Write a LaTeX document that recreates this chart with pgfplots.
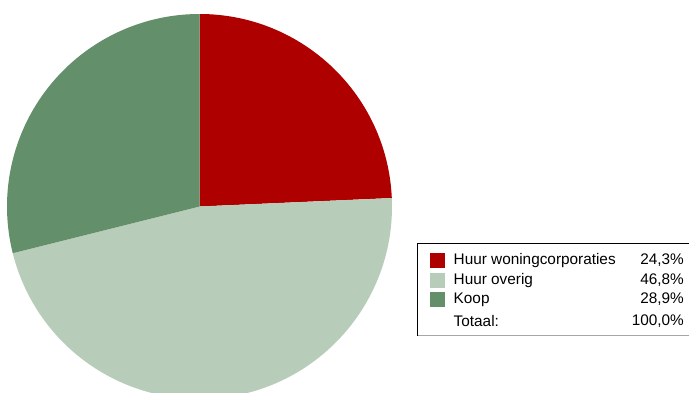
\documentclass[border=0pt]{standalone}
\usepackage{pgfplots}
\pgfplotsset{compat=1.18}
\usepackage{fontspec}
\setmainfont{Liberation Sans}

\definecolor{huurwc}{RGB}{175,0,0}
\definecolor{huurov}{RGB}{183,205,185}
\definecolor{koop}{RGB}{99,143,106}

% shares in percent
\def\vA{24.3}
\def\vB{46.8}
\def\vC{28.9}

\begin{document}
\begin{tikzpicture}
\begin{axis}[
    width=689bp, height=393bp,
    scale only axis,
    hide axis,
    xmin=0, xmax=689,
    ymin=0, ymax=393,
    clip=false,
]
\coordinate (SW) at (axis cs:0,0);
\coordinate (NE) at (axis cs:689,393);
% pie, clockwise from 12 o'clock
\pgfmathsetmacro{\aA}{90-\vA*3.6}
\pgfmathsetmacro{\aB}{\aA-\vB*3.6}
\pgfmathsetmacro{\aC}{\aB-\vC*3.6}
\fill[huurwc] (axis cs:199.5,186.5) -- ++(90:192.5bp)
    arc[start angle=90, end angle=\aA, radius=192.5bp] -- cycle;
\fill[huurov] (axis cs:199.5,186.5) -- ++(\aA:192.5bp)
    arc[start angle=\aA, end angle=\aB, radius=192.5bp] -- cycle;
\fill[koop] (axis cs:199.5,186.5) -- ++(\aB:192.5bp)
    arc[start angle=\aB, end angle=\aC, radius=192.5bp] -- cycle;
% legend
\draw[black, line width=0.8bp, fill=white] (axis cs:417,150) rectangle (axis cs:692,58);
\draw[gray!70, line width=1.2bp] (axis cs:418,57.2) -- (axis cs:692,57.2);
\fill[huurwc] (axis cs:430,125.3) rectangle (axis cs:444.5,139.7);
\fill[huurov] (axis cs:430,105.3) rectangle (axis cs:444.5,119.7);
\fill[koop]   (axis cs:430,86.3)  rectangle (axis cs:444.5,100.7);
\tikzset{lg/.style={inner sep=0pt, font=\fontsize{15.4}{18}\selectfont}}
\node[lg, anchor=west] at (axis cs:453.5,132.5) {Huur woningcorporaties};
\node[lg, anchor=west] at (axis cs:453.5,112.5) {Huur overig};
\node[lg, anchor=west] at (axis cs:453.5,93.5) {Koop};
\node[lg, anchor=west] at (axis cs:453.5,72) {Totaal:};
\node[lg, anchor=east] at (axis cs:684,132.5) {24,3\%};
\node[lg, anchor=east] at (axis cs:684,112.5) {46,8\%};
\node[lg, anchor=east] at (axis cs:684,93.5) {28,9\%};
\node[lg, anchor=east] at (axis cs:684,72) {100,0\%};
\end{axis}
\pgfresetboundingbox
\useasboundingbox (SW) rectangle (NE);
\end{tikzpicture}
\end{document}
